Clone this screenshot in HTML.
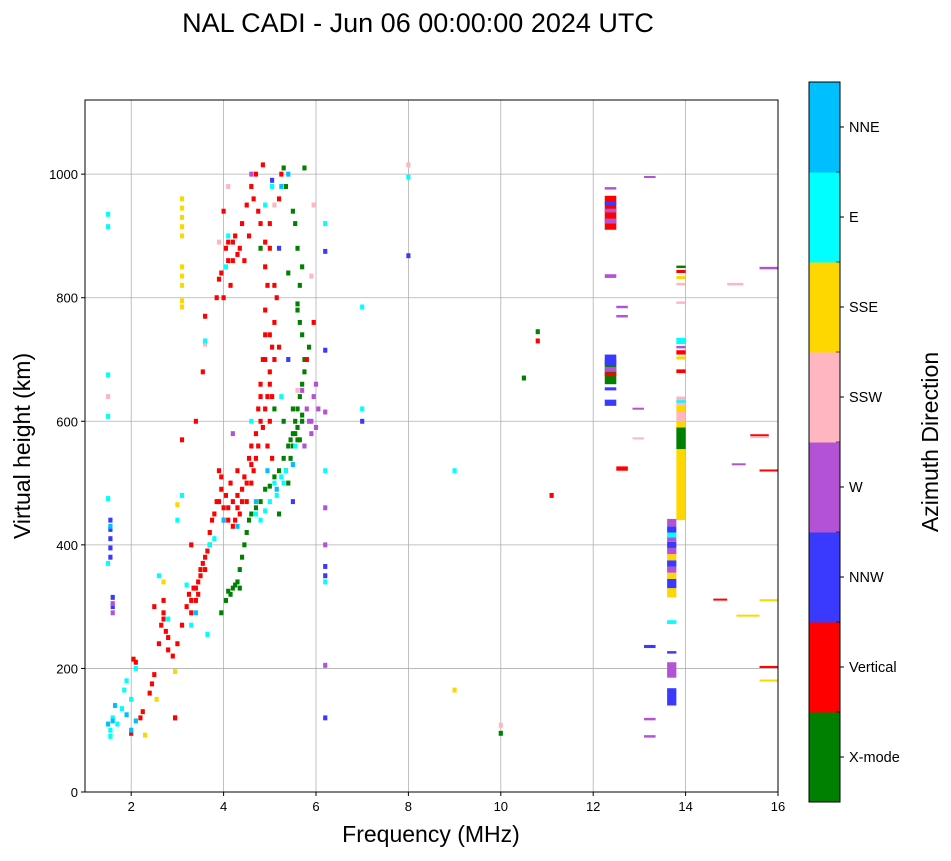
<!DOCTYPE html>
<html><head><meta charset="utf-8">
<style>
body{margin:0;background:#fff;}
svg text{font-family:"Liberation Sans",sans-serif;}
</style></head>
<body>
<svg id="chart" width="951" height="856" viewBox="0 0 951 856" xmlns="http://www.w3.org/2000/svg">
<text x="418" y="32" font-size="27" text-anchor="middle">NAL CADI - Jun 06 00:00:00 2024 UTC</text>
<g id="grid"></g>
<g id="marks"></g>
<rect x="85" y="100" width="693" height="692" fill="none" stroke="#000" stroke-width="1"/>
<g id="axes"></g>
<text x="431" y="842" font-size="23" text-anchor="middle">Frequency (MHz)</text>
<text transform="translate(30,446) rotate(-90)" font-size="23" text-anchor="middle">Virtual height (km)</text>
<g id="cbar"></g>
<text transform="translate(938,442) rotate(-90)" font-size="23" text-anchor="middle">Azimuth Direction</text>
</svg>
<script>
const xTicks=[2,4,6,8,10,12,14,16];
const yTicks=[0,200,400,600,800,1000];
const dirNames=["X-mode","Vertical","NNW","W","SSW","SSE","E","NNE"];
const dirColors=["#008000","#ff0000","#3a3aff","#b452d6","#ffb6c1","#ffd700","#00ffff","#00bfff"];
// points: [freq MHz, height km]
const redPts=[[2.0,95],[2.05,215],[2.1,210],[2.2,120],[2.25,130],[2.4,160],[2.45,175],[2.5,190],[2.5,300],[2.6,240],[2.65,270],[2.7,290],[2.7,310],[2.75,260],[2.8,230],[2.9,220],[2.95,120],[3.0,240],[3.1,270],[3.2,300],[3.25,320],[3.3,290],[3.35,330],[3.4,310],[3.45,340],[3.5,360],[3.55,370],[3.6,380],[3.65,390],[3.7,420],[3.75,440],[3.8,450],[3.85,800],[3.9,830],[3.9,470],[3.9,520],[3.95,510],[4.0,440],[4.0,940],[4.05,880],[4.1,860],[4.1,460],[4.15,500],[4.2,470],[4.2,890],[4.25,900],[4.3,480],[4.3,520],[4.35,450],[4.4,490],[4.4,920],[4.45,510],[4.5,950],[4.5,470],[4.55,540],[4.6,560],[4.6,980],[4.65,520],[4.7,580],[4.7,1000],[4.75,620],[4.8,600],[4.8,660],[4.85,700],[4.85,1015],[4.9,740],[4.9,780],[4.95,820],[4.9,850],[5.0,880],[5.0,920],[5.05,640],[5.1,700],[5.0,680],[5.1,760],[5.15,800],[5.2,720],[5.2,960],[5.25,1000],[4.95,560],[5.0,600],[4.7,540],[3.55,680],[3.4,600],[3.1,570],[3.3,400],[3.6,770],[4.0,800],[4.15,820],[5.95,760],[5.8,700],[4.45,860],[4.55,900],[5.05,540],[3.5,350],[3.45,320],[4.05,480],[4.25,440],[4.6,500],[4.85,590],[4.95,640],[5.05,720],[4.75,940],[4.65,960],[3.95,840],[4.35,880],[11.1,480],[10.8,730],
[4.0,460],[4.1,440],[4.2,430],[4.3,460],[4.4,470],[4.5,500],[4.6,530],[4.75,560],[4.9,620],[5.0,660],[4.8,640],[4.9,700],[5.0,740],[5.1,820],[4.9,890],[4.8,920],[4.3,870],[4.2,860],[4.1,890],[3.85,470],[3.95,490],[3.7,400],[3.6,360],[3.4,330],[3.3,310],[2.8,250],[2.7,280]];
const greenPts=[[3.95,290],[4.05,310],[4.15,320],[4.2,330],[4.25,335],[4.3,340],[4.35,360],[4.4,380],[4.45,400],[4.5,420],[4.55,440],[4.6,450],[4.7,460],[4.8,470],[4.9,490],[5.0,495],[5.1,510],[5.2,520],[5.3,540],[5.4,560],[5.5,580],[5.55,600],[5.6,620],[5.65,640],[5.7,660],[5.75,680],[5.8,700],[5.85,720],[5.7,740],[5.65,760],[5.6,790],[5.65,820],[5.7,850],[5.6,880],[5.55,920],[5.5,940],[5.35,980],[5.3,1010],[5.75,1010],[5.45,570],[5.5,560],[5.3,600],[5.2,450],[5.1,620],[5.4,500],[2.95,120],[10.0,95],[10.5,670],[10.8,745],[4.8,880],[5.4,840],[5.6,780],[5.6,590],[5.65,570],[5.7,610],[5.75,700],[5.5,620],[4.35,330],[4.1,325],[5.6,570],[5.55,580],[5.7,600],[5.45,540],[5.35,520]];
const bluePts=[[1.55,440],[1.55,425],[1.55,410],[1.55,395],[1.55,380],[1.6,315],[1.6,300],[5.05,990],[5.2,880],[6.2,350],[6.2,365],[6.2,120],[6.2,875],[6.2,715],[7.0,600],[8.0,868],[5.5,470],[5.4,700]];
const purplePts=[[1.6,290],[1.6,305],[5.8,620],[5.85,600],[5.9,580],[5.95,640],[6.0,660],[5.75,560],[6.05,620],[6.2,460],[6.2,400],[6.2,205],[6.2,615],[4.6,1000],[5.7,650],[4.2,580],[5.9,600],[6.0,590]];
const pinkPts=[[1.5,640],[4.1,980],[3.9,890],[5.95,950],[5.9,835],[8.0,1015],[10.0,108],[3.6,725],[5.6,650],[5.1,950]];
const goldPts=[[3.1,960],[3.1,945],[3.1,930],[3.1,915],[3.1,900],[3.1,850],[3.1,835],[3.1,820],[3.1,795],[3.1,785],[3.0,465],[2.95,195],[2.3,92],[2.55,150],[9.0,165],[2.7,340]];
const cyanPts=[[1.5,935],[1.5,915],[1.5,675],[1.5,608],[1.5,475],[1.5,370],[1.55,100],[1.55,90],[1.6,120],[1.7,110],[1.8,135],[1.85,165],[1.9,180],[2.0,150],[2.1,200],[2.6,350],[2.8,280],[3.0,440],[3.1,480],[3.2,335],[3.3,270],[3.65,255],[3.7,400],[3.8,410],[4.05,850],[4.1,900],[4.8,440],[4.9,455],[5.0,470],[5.15,480],[5.3,500],[5.35,520],[5.05,980],[4.9,950],[6.2,920],[6.2,520],[6.2,340],[7.0,785],[7.0,620],[8.0,995],[9.0,520],[4.6,600],[5.25,640],[5.55,560],[3.6,730],[4.7,450],[5.1,500],[5.25,510]];
const nnePts=[[1.5,110],[1.6,115],[1.65,140],[1.9,125],[2.0,100],[2.1,115],[1.55,430],[3.4,290],[4.0,440],[4.3,430],[4.7,470],[5.15,490],[5.5,530],[5.25,980],[5.4,1000],[4.95,520]];
// segments: [f1,f2,h1,h2,dir]
const segs=[[12.25,12.5,910,965,1],[12.25,12.5,920,928,3],[12.25,12.5,938,944,3],[12.25,12.5,950,955,2],[12.25,12.5,975,979,3],[12.25,12.5,832,838,3],
[12.25,12.5,625,635,2],[12.25,12.5,650,655,2],[12.25,12.5,660,700,0],[12.25,12.5,673,679,1],[12.25,12.5,690,708,2],[12.25,12.5,680,688,3],
[12.5,12.75,520,527,1],[12.5,12.75,783,787,3],[12.5,12.75,768,772,3],[12.85,13.1,619,622,3],[12.85,13.1,571,574,4],[13.1,13.35,994,997,3],[13.1,13.35,233,238,2],[13.1,13.35,116,120,3],[13.1,13.35,88,92,3],
[13.8,14.0,440,535,5],[13.8,14.0,535,555,5],[13.8,14.0,555,590,0],[13.8,14.0,590,600,5],[13.8,14.0,600,615,4],[13.8,14.0,615,625,5],[13.8,14.0,625,640,4],[13.8,14.0,630,634,6],[13.8,14.0,678,684,1],[13.8,14.0,700,705,5],[13.8,14.0,708,715,1],[13.8,14.0,718,722,3],[13.8,14.0,725,735,6],[13.8,14.0,840,845,1],[13.8,14.0,848,852,0],[13.8,14.0,830,835,5],[13.8,14.0,820,824,4],[13.8,14.0,790,794,4],
[13.6,13.8,315,330,5],[13.6,13.8,330,345,2],[13.6,13.8,345,355,5],[13.6,13.8,355,365,3],[13.6,13.8,365,375,2],[13.6,13.8,375,385,5],[13.6,13.8,385,395,3],[13.6,13.8,395,405,2],[13.6,13.8,405,412,3],[13.6,13.8,412,420,6],[13.6,13.8,420,430,2],[13.6,13.8,430,442,3],[13.6,13.8,272,278,6],[13.6,13.8,224,228,2],[13.6,13.8,185,210,3],[13.6,13.8,140,168,2],
[14.6,14.9,310,313,1],[14.9,15.25,820,824,4],[15.0,15.3,529,532,3],[15.1,15.6,284,287,5],[15.4,15.8,576,579,1],[15.4,15.8,573,576,4],[15.6,16,846,850,3],[15.6,16,519,522,1],[15.6,16,309,312,5],[15.6,16,201,204,1],[15.6,16,179,182,5]];
const NS="http://www.w3.org/2000/svg";
const X0=85,X1=778,Y0=792,Y1=100,FMIN=1,FMAX=16,HMIN=0,HMAX=1120;
function sx(f){return X0+(f-FMIN)/(FMAX-FMIN)*(X1-X0);}
function sy(h){return Y0-(h-HMIN)/(HMAX-HMIN)*(Y0-Y1);}
function mk(t,a,p){const e=document.createElementNS(NS,t);for(const k in a)e.setAttribute(k,a[k]);p.appendChild(e);return e;}
const grid=document.getElementById('grid'),axes=document.getElementById('axes'),marks=document.getElementById('marks'),cbar=document.getElementById('cbar');
xTicks.forEach(t=>{const x=sx(t);
 const g=mk('line',{x1:x,x2:x,y1:Y1,y2:Y0,stroke:'#b0b0b0','stroke-width':0.8},grid);
 
 
 mk('line',{x1:x,x2:x,y1:Y0,y2:Y0+4,stroke:'#000'},axes);
 const l=mk('text',{x:x,y:Y0+19,'font-size':13,'text-anchor':'middle'},axes);l.textContent=t;
 
 });
yTicks.forEach(t=>{const y=sy(t);
 const g=mk('line',{x1:X0,x2:X1,y1:y,y2:y,stroke:'#b0b0b0','stroke-width':0.8},grid);
 
 
 mk('line',{x1:X0-4,x2:X0,y1:y,y2:y,stroke:'#000'},axes);
 const l=mk('text',{x:X0-7,y:y+5,'font-size':13,'text-anchor':'end'},axes);l.textContent=t;
 
 });
function drawPts(arr,d){arr.forEach(p=>{
 const r=mk('rect',{x:sx(p[0]-0.045),y:sy(p[1]+4),width:sx(p[0]+0.045)-sx(p[0]-0.045),height:sy(p[1]-4)-sy(p[1]+4),fill:dirColors[d]},marks);
 
 });}
drawPts(greenPts,0);drawPts(redPts,1);drawPts(bluePts,2);drawPts(purplePts,3);drawPts(pinkPts,4);drawPts(goldPts,5);drawPts(cyanPts,6);drawPts(nnePts,7);
segs.forEach(s=>{
 const r=mk('rect',{x:sx(s[0]),y:sy(s[3]),width:sx(s[1])-sx(s[0]),height:Math.max(2,sy(s[2])-sy(s[3])),fill:dirColors[s[4]]},marks);
 
 });
const CB0=802,CB1=82,bh=(CB0-CB1)/dirNames.length;
dirNames.forEach((n,i)=>{const y=CB0-(i+1)*bh;
 const r=mk('rect',{x:809,y:y,width:31,height:bh+0.5,fill:dirColors[i]},cbar);
 
 
 const yc=y+bh/2;
 mk('line',{x1:840,x2:844,y1:yc,y2:yc,stroke:'#000'},cbar);
 const t=mk('text',{x:849,y:yc+5,'font-size':14.5},cbar);t.textContent=n;
 
 
 if(i>0){mk('line',{x1:836,x2:840,y1:CB0-i*bh,y2:CB0-i*bh,stroke:'#000','stroke-width':0.6},cbar);}});
mk('rect',{x:809,y:CB1,width:31,height:CB0-CB1,fill:'none',stroke:'#000','stroke-width':1},cbar);
</script>
</body></html>
